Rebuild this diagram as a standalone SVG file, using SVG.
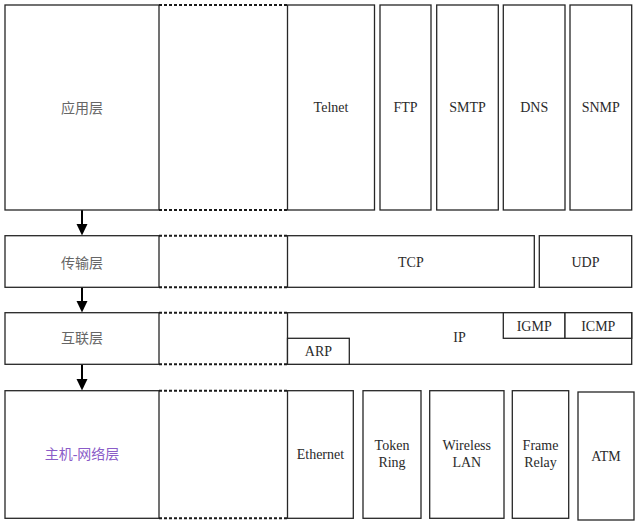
<svg xmlns="http://www.w3.org/2000/svg" width="638" height="525" viewBox="0 0 638 525">
<style>
.b{fill:#fff;stroke:#262626;stroke-width:1.3}
.d{fill:none;stroke:#1a1a1a;stroke-width:2;stroke-dasharray:3 2}
.t{font-size:14px;fill:#2a2a2a;text-anchor:middle}
.c{font-size:14px;fill:#666;text-anchor:middle}
.p{fill:#8a5cc8}
.a{stroke:#000;stroke-width:2}
</style>
<rect width="638" height="525" fill="#fff"/>
<g id="connectors">
<line class="a" x1="82" y1="210" x2="82" y2="226"/>
<polygon points="76.5,224 87.5,224 82,235.5"/>
<line class="a" x1="82" y1="287" x2="82" y2="303"/>
<polygon points="76.5,301 87.5,301 82,312.5"/>
<line class="a" x1="82" y1="364" x2="82" y2="381"/>
<polygon points="76.5,379 87.5,379 82,390.5"/>
</g>
<g font-family="'Liberation Serif', 'Times New Roman', 'Noto Sans CJK SC', serif">
<g id="app">
<rect class="b" x="5" y="5" width="154" height="205"/>
<text class="c" x="82" y="113">应用层</text>
<line class="d" x1="159" y1="5" x2="287.5" y2="5"/>
<line class="d" x1="159" y1="210" x2="287.5" y2="210"/>
</g>
<g id="telnet"><rect class="b" x="287.5" y="5" width="87" height="205"/><text class="t" x="331" y="112">Telnet</text></g>
<g id="ftp"><rect class="b" x="380" y="5" width="51" height="205"/><text class="t" x="405.5" y="112">FTP</text></g>
<g id="smtp"><rect class="b" x="436.7" y="5" width="61.6" height="205"/><text class="t" x="467.5" y="112">SMTP</text></g>
<g id="dns"><rect class="b" x="503.3" y="5" width="61.7" height="205"/><text class="t" x="534.2" y="112">DNS</text></g>
<g id="snmp"><rect class="b" x="570" y="5" width="61.7" height="205"/><text class="t" x="600.8" y="112">SNMP</text></g>
<g id="transport">
<rect class="b" x="5" y="235.7" width="154" height="51.6"/>
<text class="c" x="82" y="267.5">传输层</text>
<line class="d" x1="159" y1="235.7" x2="287.5" y2="235.7"/>
<line class="d" x1="159" y1="287.3" x2="287.5" y2="287.3"/>
</g>
<g id="tcp"><rect class="b" x="287.5" y="235.7" width="246.8" height="51.6"/><text class="t" x="410.9" y="266.5">TCP</text></g>
<g id="udp"><rect class="b" x="539.3" y="235.7" width="92.4" height="51.6"/><text class="t" x="585.5" y="266.5">UDP</text></g>
<g id="internet">
<rect class="b" x="5" y="312.7" width="154" height="51.6"/>
<text class="c" x="82" y="343">互联层</text>
<line class="d" x1="159" y1="312.7" x2="287.5" y2="312.7"/>
<line class="d" x1="159" y1="364.3" x2="287.5" y2="364.3"/>
</g>
<g id="ip"><rect class="b" x="287.5" y="312.7" width="344.2" height="51.6"/><text class="t" x="459.5" y="342">IP</text></g>
<g id="arp"><rect class="b" x="287.5" y="338.3" width="61.8" height="26"/><text class="t" x="318.4" y="356">ARP</text></g>
<g id="igmp"><rect class="b" x="503.3" y="312.7" width="61.7" height="25.6"/><text class="t" x="534.2" y="330.5">IGMP</text></g>
<g id="icmp"><rect class="b" x="565" y="312.7" width="66.7" height="25.6"/><text class="t" x="598.3" y="330.5">ICMP</text></g>
<g id="host">
<rect class="b" x="5" y="390.7" width="154" height="127.6"/>
<text class="c p" x="82" y="459">主机-网络层</text>
<line class="d" x1="159" y1="390.7" x2="287.5" y2="390.7"/>
<line class="d" x1="159" y1="518.3" x2="287.5" y2="518.3"/>
</g>
<g id="ethernet"><rect class="b" x="287.5" y="390.7" width="65.8" height="127.6"/><text class="t" x="320.4" y="459">Ethernet</text></g>
<g id="token"><rect class="b" x="363" y="390.7" width="58" height="127.6"/><text class="t" x="392" y="450">Token</text><text class="t" x="392" y="467">Ring</text></g>
<g id="wireless"><rect class="b" x="429.7" y="390.7" width="74.3" height="127.6"/><text class="t" x="466.8" y="450">Wireless</text><text class="t" x="466.8" y="467">LAN</text></g>
<g id="frame"><rect class="b" x="512.3" y="390.7" width="56.4" height="127.6"/><text class="t" x="540.5" y="450">Frame</text><text class="t" x="540.5" y="467">Relay</text></g>
<g id="atm"><rect class="b" x="578" y="392" width="56" height="128"/><text class="t" x="606" y="461">ATM</text></g>
</g>
</svg>
